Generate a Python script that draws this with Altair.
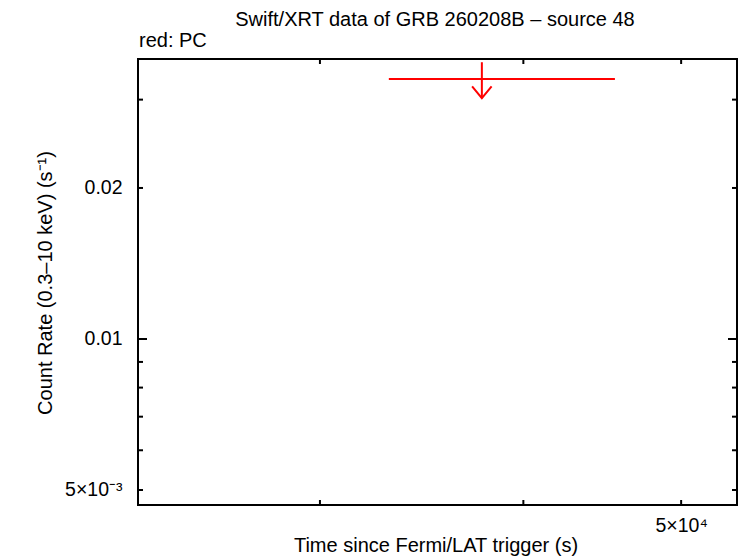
import altair as alt
import pandas as pd

# ---- data ----
time_center = [37720]
time_lo = [33070]
time_hi = [45530]
rate_ul = [0.03298]

x_major_ticks = [30000, 40000, 50000]
x_label_vals = [50000]
y_minor_ticks = [0.005, 0.006, 0.007, 0.008, 0.009, 0.02, 0.03]
y_major_ticks = [0.01]
y_label_vals = [0.005, 0.01, 0.02]

x_domain = [23194, 54110]
y_domain = [0.004667, 0.03615]

W, H = 599, 446
FONT = "Liberation Sans"
FS = 20
LFS = 19.5

pts = pd.DataFrame({"t": time_center, "lo": time_lo, "hi": time_hi, "r": rate_ul})
xt = pd.DataFrame({"t": x_major_ticks})
ymin = pd.DataFrame({"v": y_minor_ticks})
ymaj = pd.DataFrame({"v": y_major_ticks})

xscale = alt.Scale(type="log", domain=x_domain, nice=False, zero=False)
yscale = alt.Scale(type="log", domain=y_domain, nice=False, zero=False)

xaxis = alt.Axis(values=x_label_vals, labelExpr="'5×10⁴'", ticks=False, domain=False,
                 grid=False, title=None, labelFont=FONT, labelFontSize=LFS,
                 labelPadding=11, labelColor="black")
yaxis = alt.Axis(values=y_label_vals,
                 labelExpr="datum.value < 0.007 ? '5×10⁻³' : format(datum.value, '.2f')",
                 ticks=False, domain=False, grid=False, title=None, labelFont=FONT,
                 labelFontSize=LFS, labelPadding=16, labelColor="black")

base = alt.Chart(pts)

# horizontal bar (time range) of the upper limit
hbar = base.mark_rule(color="#ff0000", strokeWidth=2).encode(
    x=alt.X("lo:Q", scale=xscale, axis=xaxis),
    x2="hi:Q",
    y=alt.Y("r:Q", scale=yscale, axis=yaxis),
)
# arrow shaft
shaft = base.transform_calculate(top="datum.r*1.08", bot="datum.r*0.916").mark_rule(
    color="#ff0000", strokeWidth=2).encode(
    x=alt.X("t:Q", scale=xscale),
    y=alt.Y("top:Q", scale=yscale),
    y2="bot:Q",
)
# arrow head
head = base.transform_calculate(bot="datum.r*0.916").mark_point(
    shape="M-1,-1.2L0,0L1,-1.2", size=380, filled=False, color="#ff0000",
    strokeWidth=2, opacity=1).encode(
    x=alt.X("t:Q", scale=xscale),
    y=alt.Y("bot:Q", scale=yscale),
)

# inward ticks
def xticks(y0, y1):
    return alt.Chart(xt).mark_rule(color="black", strokeWidth=2).encode(
        x=alt.X("t:Q", scale=xscale), y=alt.value(y0), y2=alt.value(y1))

def yticks(df, x0, x1):
    return alt.Chart(df).mark_rule(color="black", strokeWidth=2).encode(
        y=alt.Y("v:Q", scale=yscale), x=alt.value(x0), x2=alt.value(x1))

ticks = [
    xticks(H, H - 5), xticks(0, 5),
    yticks(ymin, 0, 5), yticks(ymin, W, W - 5),
    yticks(ymaj, 0, 9), yticks(ymaj, W, W - 9),
]

def label(text, x, y, angle=0, align="center", size=FS):
    return alt.Chart(pd.DataFrame({"s": [text]})).mark_text(
        font=FONT, fontSize=size, color="black", align=align, baseline="alphabetic",
        angle=angle).encode(text="s:N", x=alt.value(x), y=alt.value(y))

title = label("Swift/XRT data of GRB 260208B \u2013 source 48", 297, -33)
sub = label("red: PC", 1, -12, align="left")
xtitle = label("Time since Fermi/LAT trigger (s)", 298, 493)
ytitle = alt.Chart(pd.DataFrame({"s": ["Count Rate (0.3\u201310 keV) (s\u207b\u00b9)"]})).mark_text(
    font=FONT, fontSize=FS, color="black", align="center", baseline="middle",
    angle=270).encode(text="s:N", x=alt.value(-92), y=alt.value(224))

chart = alt.layer(hbar, shaft, head, *ticks, title, sub, xtitle, ytitle).properties(
    width=W, height=H,
    background="white",
    autosize=alt.AutoSizeParams(type="none"),
    padding={"left": 130, "top": 51, "right": 1, "bottom": 53},
).configure_view(stroke="black", strokeWidth=2)

chart.save("out.html", embed_options={"renderer": "svg", "actions": False})
